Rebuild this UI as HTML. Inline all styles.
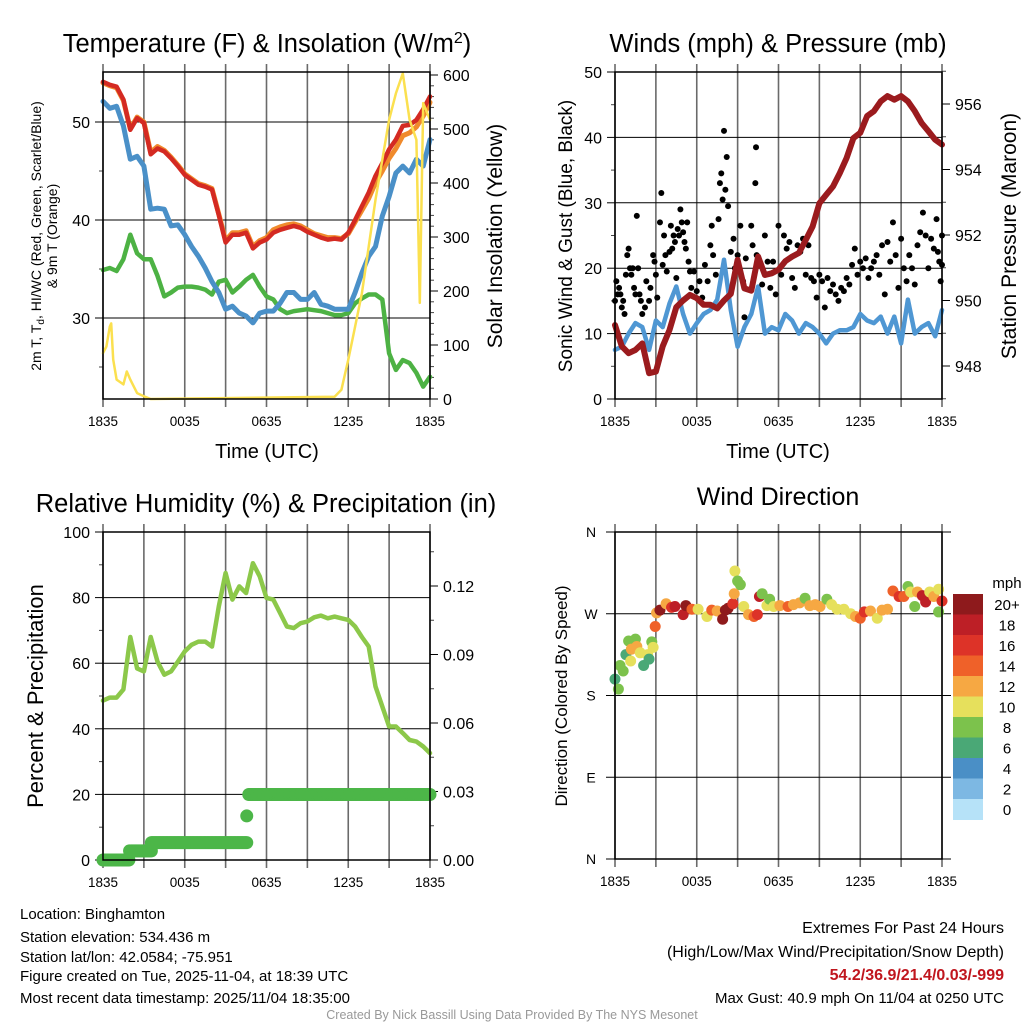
<!DOCTYPE html>
<html><head><meta charset="utf-8"><title>Mesonet Meteogram - Binghamton</title>
<style>
html,body{margin:0;padding:0;background:#fff;}
svg{display:block;font-family:"Liberation Sans",Arial,sans-serif;}
</style></head>
<body>
<svg id="chart" width="1024" height="1024" viewBox="0 0 1024 1024" xmlns="http://www.w3.org/2000/svg">
<rect x="0" y="0" width="1024" height="1024" fill="#fff"/>
<text x="267" y="52" font-size="25.5" text-anchor="middle">Temperature (F) &amp; Insolation (W/m<tspan dy="-9" font-size="16">2</tspan><tspan dy="9">)</tspan></text>
<text x="778" y="52" font-size="25.5" text-anchor="middle">Winds (mph) &amp; Pressure (mb)</text>
<text x="266" y="512" font-size="25.5" text-anchor="middle">Relative Humidity (%) &amp; Precipitation (in)</text>
<text x="778" y="505" font-size="25" text-anchor="middle">Wind Direction</text>

<text transform="translate(41,236) rotate(-90)" font-size="14" text-anchor="middle">2m T, T<tspan font-size="10" dy="3">d</tspan><tspan dy="-3">, HI/WC (Red, Green, Scarlet/Blue)</tspan></text>
<text transform="translate(57,236) rotate(-90)" font-size="14" text-anchor="middle">&amp; 9m T (Orange)</text>
<text transform="translate(502,236) rotate(-90)" font-size="21" text-anchor="middle">Solar Insolation (Yellow)</text>
<text x="267" y="458" font-size="20" text-anchor="middle">Time (UTC)</text>
<text x="778" y="458" font-size="20" text-anchor="middle">Time (UTC)</text>
<text transform="translate(572,236) rotate(-90)" font-size="19" text-anchor="middle">Sonic Wind &amp; Gust (Blue, Black)</text>
<text transform="translate(1016,236) rotate(-90)" font-size="21" text-anchor="middle">Station Pressure (Maroon)</text>
<text transform="translate(43,696) rotate(-90)" font-size="22" text-anchor="middle">Percent &amp; Precipitation</text>
<text transform="translate(567,696) rotate(-90)" font-size="17" text-anchor="middle">Direction (Colored By Speed)</text>

<g font-size="15">
<text x="20" y="919">Location: Binghamton</text>
<text x="20" y="942">Station elevation: 534.436 m</text>
<text x="20" y="962">Station lat/lon: 42.0584; -75.951</text>
<text x="20" y="981">Figure created on Tue, 2025-11-04, at 18:39 UTC</text>
<text x="20" y="1003">Most recent data timestamp: 2025/11/04 18:35:00</text>
</g>
<g font-size="16" text-anchor="end">
<text x="1004" y="933">Extremes For Past 24 Hours</text>
<text x="1004" y="957">(High/Low/Max Wind/Precipitation/Snow Depth)</text>
<text x="1004" y="980" fill="#c0161e" font-weight="bold">54.2/36.9/21.4/0.03/-999</text>
<text x="1004" y="1003" font-size="15">Max Gust: 40.9 mph On 11/04 at 0250 UTC</text>
</g>
<text x="512" y="1019" font-size="12.5" fill="#999" text-anchor="middle">Created By Nick Bassill Using Data Provided By The NYS Mesonet</text>
</svg>
<script>
// ---------- DATA ----------
const halfHours = [0,0.5,1,1.5,2,2.5,3,3.5,4,4.5,5,5.5,6,6.5,7,7.5,8,8.5,9,9.5,10,10.5,11,11.5,12,12.5,13,13.5,14,14.5,15,15.5,16,16.5,17,17.5,18,18.5,19,19.5,20,20.5,21,21.5,22,22.5,23,23.5,24];
const xTickLabels = ["1835","0035","0635","1235","1835"];
const tempRed = [54.1,53.8,53.6,52.3,49.2,50.4,49.9,46.7,47.3,47.0,46.3,45.5,44.6,44.1,43.6,43.4,43.1,40.5,37.7,38.5,38.5,38.7,37.1,37.7,38.0,38.7,39.0,39.2,39.4,39.2,38.8,38.5,38.2,38.0,38.1,38.0,38.7,40.0,41.4,42.8,44.5,45.8,47.2,48.2,49.6,49.7,50.2,51.3,52.6];
const temp9m = [54.0,53.7,53.5,52.2,49.3,50.5,50.0,46.9,47.5,47.1,46.4,45.6,44.7,44.2,43.7,43.5,43.2,40.6,37.9,38.7,38.7,38.9,37.3,37.9,38.2,39.0,39.3,39.5,39.6,39.4,39.0,38.6,38.4,38.2,38.2,38.1,38.6,39.8,41.0,42.2,43.8,45.0,46.3,47.3,48.6,48.9,49.5,50.6,52.0];
const windChill = [52.1,51.4,51.6,49.6,46.2,46.5,45.5,41.1,41.2,41.1,39.4,39.5,38.5,37.3,36.3,35.1,33.7,32.6,30.9,31.2,30.5,30.2,29.5,30.5,30.7,30.7,31.5,32.6,32.6,31.9,31.9,32.6,31.4,31.2,30.9,30.9,30.9,32.6,34.6,36.3,37.3,40.4,42.4,44.8,45.5,44.8,46.2,45.5,48.2];
const dewPoint = [34.9,35.1,34.8,36.0,38.5,36.6,36.0,36.0,34.3,32.2,32.6,33.1,33.2,33.2,33.1,32.9,32.4,33.7,33.9,32.6,33.2,33.9,34.4,33.2,32.2,31.9,30.9,30.5,30.7,30.8,30.9,30.8,30.7,30.5,30.3,30.3,30.5,31.5,32.0,32.4,32.4,31.9,26.4,24.7,25.7,25.4,24.4,23.0,24.0];
const solarHours = [0,0.25,0.5,0.6,0.75,1,1.5,1.75,2,2.5,3,3.5,17,17.5,18,18.5,19,19.5,20,20.5,21,21.5,22,22.5,23,23.25,23.5,24];
const solarValues = [85,97,134,140,73,36,27,51,36,11,5,0,4,17,73,134,196,282,369,443,517,566,603,517,480,178,548,517];
const tempTicks = [30,40,50];
const solarTicks = [0,100,200,300,400,500,600];

const windSpeed = [7.5,8,10,11.6,11,7.5,12,11,14.6,17.2,13,10,11.6,13,13.6,15.2,21.3,13.6,8,11,13,17.2,10,11,10.5,13,12,10,11.6,11,10,8.5,10,10.5,10.5,11,13,12,11.6,12.6,10,12.6,8.5,15.2,10,11,11.6,9.6,13.6];
const pressure = [949.25,948.6,948.39,948.49,948.69,947.78,947.83,948.6,949.1,949.8,950.0,950.17,950.07,949.87,949.87,949.76,950.0,950.2,951.24,950.37,950.3,951.34,950.78,950.83,950.94,951.2,951.34,951.45,951.85,952.26,952.97,953.23,953.48,953.89,954.35,954.96,955.12,955.63,955.78,956.08,956.24,956.13,956.24,956.08,955.78,955.42,955.17,954.91,954.76];
const gustHours = [0,0.1,0.2,0.3,0.4,0.5,0.6,0.7,0.8,0.9,1.0,1.1,1.2,1.3,1.4,1.5,1.6,1.7,1.8,1.9,2.0,2.2,2.3,2.5,2.6,2.8,2.9,3.0,3.1,3.3,3.4,3.5,3.6,3.7,3.8,4.0,4.1,4.2,4.3,4.4,4.5,4.6,4.7,4.8,4.9,5.0,5.1,5.2,5.3,5.4,5.5,5.6,5.8,6.0,6.2,6.4,6.6,6.8,7.0,7.1,7.2,7.4,7.6,7.7,7.8,7.9,8.0,8.1,8.2,8.3,8.5,8.7,8.8,9.0,9.2,9.4,9.5,9.6,10.0,10.1,10.3,10.35,10.4,10.6,10.8,11.0,11.2,11.4,11.6,11.8,12.0,12.2,12.4,12.6,12.8,13.0,13.2,13.4,13.6,13.8,14.0,14.2,14.4,14.6,14.8,15.0,15.2,15.4,15.6,15.8,16.0,16.2,16.4,16.6,16.8,17.0,17.2,17.4,17.6,17.8,18.0,18.2,18.4,18.6,18.8,19.0,19.2,19.4,19.6,19.8,20.0,20.2,20.4,20.6,20.8,21.0,21.2,21.4,21.6,21.8,22.0,22.2,22.4,22.6,22.8,23.0,23.2,23.4,23.6,23.8,24.0,23.9,23.7,24.0];
const gustValues = [15,18,16,17,16,14,15,13,19,22,23,20,19,20,17,16,28,20,16,15,13,14,18,15,17,22,21,19,15.5,27,31.5,20.5,25,22,19.5,22.5,26.5,23,25,24,18.5,26,25,29,27,25.5,24,23,27,21,19.5,17,19.5,16.5,18,15.5,20.5,18,23.5,26.5,22,19,27.5,33,34.5,30.5,41,32,37,29.5,22.5,24.5,20,22,26.5,18,12.5,21.5,26.5,23.5,33,38.5,22,20.5,17.5,25,21,17,21,16,26.5,19,25,23,24,18.5,17,23.5,22.5,24.5,19,23.5,18.5,18,15.5,19,18,14,18.5,16.5,17.5,16,15,17,16.5,18.5,17.5,20.5,23,19,21,20,21.5,18.5,20,21,22,19,23.5,16,24,21,27,22,17,24.5,20,18,22,20,17.5,23.5,25.5,28.5,25,20,24.5,23,27.5,21,25,18,22.5,20.5];
const windTicks = [0,10,20,30,40,50];
const pressureTicks = [948,950,952,954,956];

const humidity = [48.6,49.5,49.5,52,68,58.4,57.5,68,60.5,56.5,57.5,60.5,63.6,65.6,66.6,66.6,65.1,77.3,87.5,79.4,83.4,81.4,90.5,86.5,79.9,79.4,75.3,71.2,70.7,72.2,72.7,74,74.5,73.7,74.2,73.7,73.2,71.2,68,65.1,52.9,46.8,40.7,40.7,38.7,36.6,36.1,34.6,32.6];
const precipStartHours = [0,1.95,3.55,10.55,10.7];
const precipEndHours = [1.95,3.55,10.55,10.55,24];
const precipLevels = [0,0.004,0.0076,0.0193,0.0287];
const humidityTicks = [0,20,40,60,80,100];
const precipTicks = [0,0.03,0.06,0.09,0.12];
const precipTickLabels = ["0.00","0.03","0.06","0.09","0.12"];

const dirHours = [0,0.25,0.37,0.6,0.8,1.0,1.2,1.15,1.5,1.6,1.85,2.1,2.4,2.5,2.7,2.8,2.95,3.05,3.3,3.75,4.15,4.4,5.0,5.2,5.65,6.1,6.75,7.1,7.5,7.9,8.1,8.3,8.65,8.75,8.8,9.0,9.2,9.45,9.8,10.2,10.45,10.6,10.8,11.15,11.35,11.65,12.1,12.7,13.1,13.55,13.95,14.3,14.7,15.05,15.55,15.9,16.3,16.8,17.3,17.65,18.0,18.3,18.75,19.25,19.6,20.0,20.4,20.85,21.2,21.5,21.7,22.0,22.2,22.55,22.8,23.1,23.4,23.75,23.75,24.0];
const dirDegrees = [198,187,213,207,225,240,231,218,242,234,227,213,225,220,239,233,256,271,274,281,277,278,269,279,275,275,267,274,273,264,274,276,281,292,317,306,302,278,269,267,269,289,292,279,286,278,279,278,280,282,287,279,280,278,286,280,275,275,270,267,265,272,273,265,274,275,295,289,289,300,294,278,294,290,283,294,289,272,297,284];
const dirSpeeds = [7,8,8,8,6,8,12,10,8,12,10,6,10,6,8,10,14,12,20,12,16,18,18,20,14,10,10,14,12,20,20,20,16,12,10,8,8,10,12,14,16,18,8,10,8,10,12,14,12,12,8,12,12,12,8,10,10,10,10,12,14,16,12,10,12,12,14,16,14,8,10,8,12,18,18,10,12,8,10,16];
const dirTickDegrees = [360,270,180,90,0];
const dirTickLabels = ["N","W","S","E","N"];
const speedBinLabels = ["20+","18","16","14","12","10","8","6","4","2","0"];
const speedBinColors = ["#8e1a1c","#bd1f26","#dd3328","#ef6129","#f6a843","#e6e05c","#7cc24c","#4aa876","#4a8fc6","#7db8e3","#b6e2f8"];

// ---------- HELPERS ----------
const NS = 'http://www.w3.org/2000/svg';
const svg = document.getElementById('chart');
function mk(tag, attrs, parent) {
  const e = document.createElementNS(NS, tag);
  for (const k in attrs) e.setAttribute(k, attrs[k]);
  (parent || svg).appendChild(e);
  return e;
}
function xScale(p, h) { return p.x0 + h / 24 * (p.x1 - p.x0); }
function linScale(v, d0, d1, r0, r1) { return r0 + (v - d0) / (d1 - d0) * (r1 - r0); }

const P1 = {x0:103, x1:430, y0:72, y1:399};
const P2 = {x0:615, x1:942, y0:72, y1:399};
const P3 = {x0:103, x1:430, y0:532, y1:860};
const P4 = {x0:615, x1:942, y0:532, y1:859};

const yTemp = v => linScale(v, 30, 50, 318, 122);
const ySolar = v => linScale(v, 0, 600, 399, 75);
const yWind = v => linScale(v, 0, 50, 399, 72);
const yPres = v => linScale(v, 948, 956, 366, 104);
const yRH = v => linScale(v, 0, 100, 860, 532);
const yPrecip = v => linScale(v, 0, 0.12, 860, 586);
const yDir = v => linScale(v, 0, 360, 859, 532);

function frame(p, name) {
  const g = mk('g', {});
  
  
  for (let i = 0; i <= 8; i++) {
    const x = xScale(p, i * 3);
    const ln = mk('line', {x1:x, x2:x, y1:p.y0 - 8, y2:p.y1 + 8, stroke:'#6a6a6a', 'stroke-width':1.6}, g);
    
    
  }
  for (let i = 0; i < xTickLabels.length; i++) {
    const t = mk('text', {x:xScale(p, i * 6), y:p.y1 + 27, 'font-size':13.5, 'text-anchor':'middle'}, g);
    t.textContent = xTickLabels[i];
    
    
  }
  return g;
}
function hgrid(p, g, ys) {
  ys.forEach(y => {
    const ln = mk('line', {x1:p.x0, x2:p.x1, y1:y, y2:y, stroke:'#000', 'stroke-width':1}, g);
    
    
  });
}
function border(p, g) {
  const r = mk('rect', {x:p.x0, y:p.y0, width:p.x1 - p.x0, height:p.y1 - p.y0, fill:'none', stroke:'#000', 'stroke-width':1.5}, g);
  
  
}
function yAxis(p, g, side, majors, labels, scale, minors) {
  const x = side === 'left' ? p.x0 : p.x1;
  const dir = side === 'left' ? -1 : 1;
  minors.forEach(v => {
    const y = scale(v);
    const ln = mk('line', {x1:x, x2:x + dir * 4, y1:y, y2:y, stroke:'#444', 'stroke-width':1}, g);
    
    
  });
  majors.forEach((v, i) => {
    const y = scale(v);
    const ln = mk('line', {x1:x, x2:x + dir * 8, y1:y, y2:y, stroke:'#000', 'stroke-width':1}, g);
    
    
    const t = mk('text', {x:x + dir * 13, y:y + 6, 'font-size':16, 'text-anchor':side === 'left' ? 'end' : 'start'}, g);
    t.textContent = labels[i];
    
    
  });
}
function range(a, b, s) { const r = []; for (let v = a; v <= b + 1e-9; v += s) r.push(+v.toFixed(4)); return r; }
function polyline(g, xs, ys, color, w, name) {
  const pts = xs.map((x, i) => x.toFixed(1) + ',' + ys[i].toFixed(1)).join(' ');
  const pl = mk('polyline', {points:pts, fill:'none', stroke:color, 'stroke-width':w, 'stroke-linejoin':'round', 'stroke-linecap':'round'}, g);
  
  
  return pl;
}

// ---------- PANEL 1: Temperature ----------
{
  const g = frame(P1, 'temperature-panel');
  hgrid(P1, g, tempTicks.map(yTemp));
  yAxis(P1, g, 'left', tempTicks, tempTicks.map(String), yTemp, [25,35,45]);
  yAxis(P1, g, 'right', solarTicks, solarTicks.map(String), ySolar, range(0, 600, 20));
  const xs = halfHours.map(h => xScale(P1, h));
  polyline(g, xs, dewPoint.map(yTemp), '#4db244', 4.5, 'dewpoint-line');
  polyline(g, xs, windChill.map(yTemp), '#4a90c8', 5, 'wind-chill-line');
  polyline(g, xs, temp9m.map(yTemp), '#f08a2c', 5, 'temp-9m-line');
  polyline(g, xs, tempRed.map(yTemp), '#d42a22', 4.5, 'temp-2m-line');
  polyline(g, solarHours.map(h => xScale(P1, h)), solarValues.map(ySolar), '#fbe04f', 2.5, 'solar-line');
  border(P1, g);
}
// ---------- PANEL 2: Wind & Pressure ----------
{
  const g = frame(P2, 'wind-panel');
  hgrid(P2, g, [10,20,30,40].map(yWind));
  yAxis(P2, g, 'left', windTicks, windTicks.map(String), yWind, [5,15,25,35,45]);
  yAxis(P2, g, 'right', pressureTicks, pressureTicks.map(String), yPres, range(947, 957, 1));
  polyline(g, halfHours.map(h => xScale(P2, h)), windSpeed.map(yWind), '#4f97d3', 4.5, 'wind-speed-line');
  gustHours.forEach((h, i) => {
    const c = mk('circle', {cx:xScale(P2, h), cy:yWind(gustValues[i]), r:3, fill:'#000'}, g);
    
    
  });
  polyline(g, halfHours.map(h => xScale(P2, h)), pressure.map(yPres), '#9b1b1e', 6, 'pressure-line');
  border(P2, g);
}
// ---------- PANEL 3: Humidity & Precip ----------
{
  const g = frame(P3, 'humidity-panel');
  hgrid(P3, g, [20,40,60,80].map(yRH));
  yAxis(P3, g, 'left', humidityTicks, humidityTicks.map(String), yRH, range(10, 90, 20));
  yAxis(P3, g, 'right', precipTicks, precipTickLabels, yPrecip, range(0.015, 0.135, 0.03));
  polyline(g, halfHours.map(h => xScale(P3, h)), humidity.map(yRH), '#8cc84a', 4.5, 'humidity-line');
  precipLevels.forEach((lv, i) => {
    for (let h = precipStartHours[i]; h <= precipEndHours[i] + 1e-6; h += 0.1) {
      const c = mk('circle', {cx:xScale(P3, h), cy:yPrecip(lv), r:6.5, fill:'#4cb648'}, g);
      
      
    }
  });
  border(P3, g);
}
// ---------- PANEL 4: Wind Direction ----------
{
  const g = frame(P4, 'direction-panel');
  hgrid(P4, g, [270,180,90].map(yDir));
  dirTickDegrees.forEach((d, i) => {
    const y = yDir(d);
    const ln = mk('line', {x1:P4.x0 - 9, x2:P4.x0, y1:y, y2:y, stroke:'#000', 'stroke-width':1}, g);
    
    
    const ln2 = mk('line', {x1:P4.x1, x2:P4.x1 + 9, y1:y, y2:y, stroke:'#000', 'stroke-width':1}, g);
    
    
    const t = mk('text', {x:591, y:y + 5, 'font-size':14, 'text-anchor':'middle'}, g);
    t.textContent = dirTickLabels[i];
    
    
  });
  dirHours.forEach((h, i) => {
    const s = dirSpeeds[i];
    const bin = Math.max(0, Math.min(10, 10 - Math.floor(s / 2)));
    const c = mk('circle', {cx:xScale(P4, h), cy:yDir(dirDegrees[i]), r:5.5, fill:speedBinColors[bin]}, g);
    
    
  });
  border(P4, g);
  const lg = mk('g', {});
  
  
  const u = mk('text', {x:1007, y:588, 'font-size':15, 'text-anchor':'middle'}, lg);
  u.textContent = 'mph';
  
  
  speedBinLabels.forEach((lab, i) => {
    const y = 594 + i * 20.5;
    const r = mk('rect', {x:953, y:y, width:30, height:21, fill:speedBinColors[i]}, lg);
    
    
    const t = mk('text', {x:1007, y:y + 16, 'font-size':15, 'text-anchor':'middle'}, lg);
    t.textContent = lab;
    
    
  });
}
</script>
</body></html>
